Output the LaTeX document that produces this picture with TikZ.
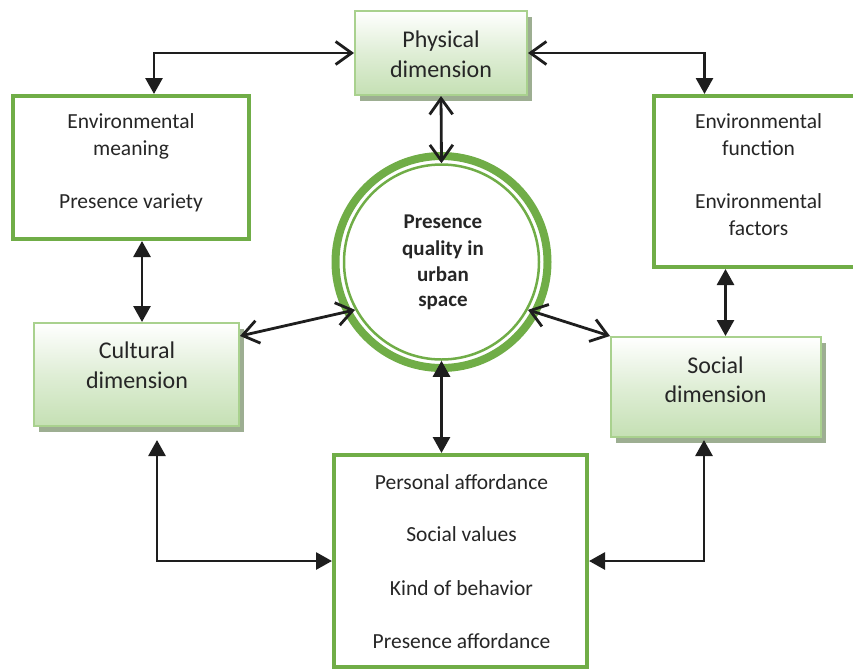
\documentclass[tikz,border=0pt]{standalone}
\usepackage{fontspec}
\setmainfont{Carlito}
\usetikzlibrary{arrows.meta,shadows}
\definecolor{dkgreen}{RGB}{112,173,71}
\definecolor{ltgreen}{RGB}{169,209,142}
\definecolor{fillgreen}{RGB}{197,224,180}
\definecolor{shadowgreen}{RGB}{157,174,146}
\definecolor{txt}{RGB}{38,38,38}
\definecolor{arr}{RGB}{30,30,30}
\tikzset{
  ob/.tip={Straight Barb[length=16pt,width=23pt,line width=2.8pt]},
  ft/.tip={Triangle[length=16pt,width=17pt]},
  conn/.style={draw=arr,line width=2.8pt},
  dimbox/.style={rectangle,draw=ltgreen,line width=2pt,inner sep=0pt,
    top color=white,bottom color=fillgreen,middle color=white!45!fillgreen,
    drop shadow={shadow xshift=5pt,shadow yshift=-6pt,fill=shadowgreen,opacity=1}},
  listbox/.style={rectangle,draw=dkgreen,line width=4pt,fill=white,inner sep=0pt},
  dimtxt/.style={anchor=base,inner sep=0pt,text=txt,font=\fontsize{24}{30}\selectfont},
  listtxt/.style={anchor=base,inner sep=0pt,text=txt,font=\fontsize{21.5}{27}\selectfont},
  circtxt/.style={anchor=base,inner sep=0pt,text=txt,font=\bfseries\fontsize{21}{26}\selectfont},
}
\begin{document}
\begin{tikzpicture}[x=1pt,y=-1pt]
\useasboundingbox (0,0) rectangle (853,670);

% boxes
\node[dimbox,minimum width=172pt,minimum height=84pt] (phys) at (441,53) {};
\node[dimbox,minimum width=205pt,minimum height=103pt] (cult) at (136.5,374.5) {};
\node[dimbox,minimum width=210pt,minimum height=100pt] (soc) at (716,387) {};
\node[listbox,minimum width=236pt,minimum height=143pt] (envm) at (131,167.5) {};
\node[listbox,minimum width=215pt,minimum height=171pt] (envf) at (761,181.5) {};
\node[listbox,minimum width=253pt,minimum height=212pt] (bot) at (460.5,561) {};

% circle
\node[circle,draw=dkgreen,line width=8pt,minimum size=212pt,inner sep=0pt] (circO) at (441.5,262) {};
\node[circle,draw=dkgreen,line width=2.5pt,minimum size=195pt,inner sep=0pt] (circI) at (441.5,262) {};

% texts
\node[dimtxt] (t1) at (441,47) {Physical};
\node[dimtxt] (t2) at (441,77.5) {dimension};
\node[dimtxt] (t3) at (137,358.5) {Cultural};
\node[dimtxt] (t4) at (137,388.5) {dimension};
\node[dimtxt] (t5) at (715.5,373.5) {Social};
\node[dimtxt] (t6) at (715.5,402.5) {dimension};

\node[listtxt] (m1) at (131,128.5) {Environmental};
\node[listtxt] (m2) at (131,155.5) {meaning};
\node[listtxt] (m3) at (131,208) {Presence variety};

\node[listtxt] (f1) at (758.5,128.5) {Environmental};
\node[listtxt] (f2) at (758.5,155) {function};
\node[listtxt] (f3) at (758.5,208.5) {Environmental};
\node[listtxt] (f4) at (758.5,235) {factors};

\node[listtxt] (b1) at (461.5,489.5) {Personal affordance};
\node[listtxt] (b2) at (461.5,541.5) {Social values};
\node[listtxt] (b3) at (461.5,595) {Kind of behavior};
\node[listtxt] (b4) at (461.5,648.5) {Presence affordance};

\node[circtxt] (c1) at (443,228.5) {Presence};
\node[circtxt] (c2) at (443,255) {quality in};
\node[circtxt] (c3) at (443,281.5) {urban};
\node[circtxt] (c4) at (443,306.5) {space};

% connectors
\draw[conn,{ob}-{ft}] (phys.west) -| ([xshift=143pt]envm.north west);
\draw[conn,{ob}-{ft}] (phys.east) -| ([xshift=53pt]envf.north west);
\draw[conn,{ob}-{ob}] (phys.south) -- (circI.north);
\draw[conn,{ft}-{ft}] ([xshift=131pt]envm.south west) coordinate (em) -- (em |- cult.north);
\draw[conn,{ft}-{ft}] ([xshift=74pt]envf.south west) coordinate (ef) -- (ef |- soc.north);
\draw[conn,{ob}-{ob}] ([yshift=-14pt]cult.north east) -- (circI.209);
\draw[conn,{ob}-{ob}] (circI.331) -- (soc.north west);
\draw[conn,{ft}-{ft}] (circI.south) -- (bot.north -| circI.south);
\draw[conn,{ft}-{ft}] ([xshift=124pt,yshift=-13pt]cult.south west) |- (bot.west);
\draw[conn,{ft}-{ft}] ([xshift=94pt,yshift=-2pt]soc.south west) |- (bot.east);
\end{tikzpicture}
\end{document}
